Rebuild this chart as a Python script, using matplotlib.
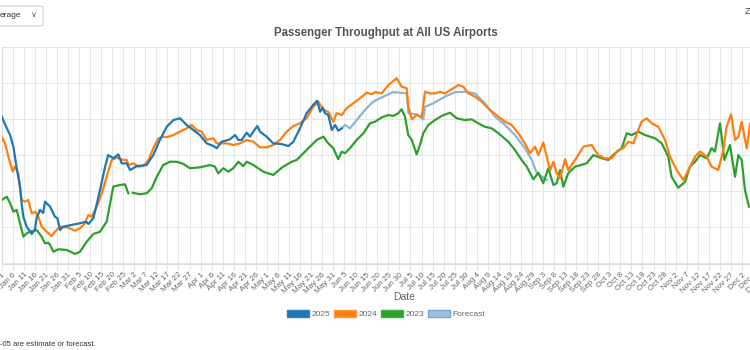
import numpy as np
import pandas as pd
import matplotlib
matplotlib.use("Agg")
import matplotlib.pyplot as plt
from matplotlib.patches import Patch, FancyBboxPatch

plt.rcParams['font.family'] = ['Liberation Sans', 'DejaVu Sans']

# day offset from Jan 1, 7-day average passengers (millions)
days_2025 = [0, 2, 3.8, 5.3, 6.8, 8.3, 9, 9.8, 11.3, 13.6, 15, 15.8, 17.3, 18.8, 19.6, 21.9, 24.1, 25.2,
             26.4, 27.9, 30.9, 35.4, 38.2, 39.2, 41.5, 44.5, 46.8, 48.2, 50.5, 52.8, 54.3, 56.6, 58.1,
             61.2, 65.6, 68.6, 71.6, 74.7, 77.7, 80.7, 83.7, 86.7, 89.7, 92.8, 95.8, 97.3, 99.6, 103.3,
             105.6, 107.1, 108.6, 110.9, 112.4, 113.9, 115.7, 116.9, 119.9, 122.9, 126.7, 129.7, 132,
             135, 138, 141, 142.8, 144.1, 145.3, 146.3, 147.8, 149.4, 150.9, 152.3, 153.9]
vals_2025 = [2.614, 2.558, 2.512, 2.447, 2.328, 2.226, 2.134, 2.059, 2.004, 1.964, 1.986, 2.051, 2.097,
             2.080, 2.143, 2.115, 2.059, 2.051, 1.986, 2.004, 2.012, 2.023, 2.032, 2.019, 2.051, 2.207,
             2.337, 2.401, 2.383, 2.405, 2.355, 2.355, 2.318, 2.340, 2.346, 2.401, 2.485, 2.558, 2.595,
             2.605, 2.568, 2.540, 2.512, 2.466, 2.451, 2.439, 2.475, 2.488, 2.512, 2.485, 2.485, 2.525,
             2.503, 2.531, 2.562, 2.531, 2.503, 2.466, 2.462, 2.451, 2.475, 2.549, 2.633, 2.679, 2.702,
             2.641, 2.664, 2.633, 2.623, 2.540, 2.568, 2.536, 2.549]

days_fc = [153.9, 155.4, 157.6, 160.7, 164.4, 168.2, 172.7, 177.2, 181.7, 183.3, 184.1, 187.8, 190.8,
           191.6, 195.3, 200.6, 205.2, 209.7, 214.2, 218.7, 223.3, 227.8, 232.3, 236.8, 239.9, 242.2,
           246.7]
vals_fc = [2.549, 2.568, 2.549, 2.595, 2.651, 2.697, 2.725, 2.750, 2.745, 2.743, 2.633, 2.627, 2.599,
           2.669, 2.688, 2.725, 2.750, 2.752, 2.743, 2.688, 2.614, 2.568, 2.512, 2.439, 2.374, 2.300,
           2.263]

days_2024 = [0, 1.5, 3, 5, 6, 7.5, 9, 10.5, 12, 13.6, 15.1, 16.6, 18.1, 20.4, 22.6, 24.1, 26.4, 29.4,
             33.2, 35.4, 37.7, 39.2, 40.7, 43, 45.3, 47.5, 49.8, 52, 55, 56.6, 57.3, 59.6, 61.8, 64.1,
             66.4, 68.6, 70.9, 73.1, 74.7, 77.7, 80.7, 83.7, 86, 88.3, 90.5, 92.8, 95.8, 97.3, 101.8,
             104.8, 107.9, 110.9, 113.9, 116.9, 119.9, 122.9, 126, 129, 132, 135, 138, 141, 143.3, 145.6,
             147.8, 150.1, 151.6, 153.9, 156.1, 159.1, 162.2, 165.2, 167.5, 169, 172, 175, 178.8, 181,
             183.3, 184, 185.6, 187.8, 190.1, 191.6, 193.8, 196.1, 198.4, 200.6, 203.7, 206.7, 208.9,
             211.2, 214.2, 217.2, 221, 224.8, 227.8, 230.8, 233.8, 236.8, 239.1, 241.4, 242.9, 245.1,
             246.7, 248.2, 249.7, 251.2, 252.7, 255, 256.4, 259.5, 263.2, 267, 270, 272.9, 276.1, 279.1,
             281.3, 283.6, 285.9, 288.1, 289.6, 291.9, 294.2, 297.2, 300.2, 302.5, 305.5, 308.5, 310.8,
             313.8, 316.1, 319.1, 321.3, 324.3, 326.6, 328.1, 330.1, 331.9, 333.4, 334.9, 337.2, 338.7,
             341, 344]
vals_2024 = [2.503, 2.466, 2.392, 2.309, 2.337, 2.300, 2.152, 2.143, 2.152, 2.078, 2.087, 2.059, 2.004,
             1.976, 1.952, 1.976, 2.004, 2.001, 1.982, 1.995, 2.023, 2.069, 2.059, 2.115, 2.189, 2.281,
             2.374, 2.386, 2.374, 2.374, 2.346, 2.355, 2.337, 2.340, 2.374, 2.439, 2.494, 2.503, 2.500,
             2.512, 2.531, 2.549, 2.568, 2.540, 2.531, 2.485, 2.494, 2.466, 2.466, 2.457, 2.466, 2.485,
             2.475, 2.444, 2.444, 2.457, 2.485, 2.531, 2.562, 2.577, 2.605, 2.669, 2.697, 2.651, 2.641,
             2.586, 2.633, 2.623, 2.660, 2.688, 2.716, 2.747, 2.738, 2.750, 2.743, 2.789, 2.827, 2.780,
             2.771, 2.669, 2.599, 2.623, 2.614, 2.752, 2.743, 2.743, 2.752, 2.743, 2.766, 2.789, 2.780,
             2.743, 2.725, 2.697, 2.651, 2.614, 2.586, 2.568, 2.522, 2.466, 2.411, 2.447, 2.401, 2.470,
             2.392, 2.318, 2.364, 2.300, 2.272, 2.378, 2.318, 2.374, 2.447, 2.457, 2.401, 2.383, 2.383,
             2.429, 2.439, 2.475, 2.466, 2.540, 2.586, 2.605, 2.577, 2.558, 2.485, 2.392, 2.318, 2.263,
             2.318, 2.392, 2.420, 2.392, 2.337, 2.318, 2.429, 2.558, 2.627, 2.485, 2.503, 2.586, 2.439,
             2.577, 2.550, 2.500]

days_2023 = [0, 2.3, 3.8, 5.3, 6.8, 8.3, 9.8, 11.3, 12.8, 15.8, 18.1, 18.8, 19.6, 21.1, 21.9, 23.4,
             25.6, 29.4, 33.2, 35.4, 38.5, 41.5, 44.5, 47.5, 50.5, 53.5, 55.8, 57.3, 58.3, 59.3, 62.6,
             65.6, 67.9, 70.2, 73.1, 76.2, 79.2, 82.2, 85.2, 89.7, 94.3, 96.5, 98, 100.3, 102.6, 104.8,
             107.1, 109.3, 110.9, 113.9, 118.4, 122.9, 127.4, 131.3, 133.5, 136.5, 139.5, 142.6, 145.6,
             147.8, 150.1, 152.3, 153.9, 155.4, 157.6, 160.7, 163.7, 166.7, 169, 172, 175, 177.2, 179.5,
             181, 182.5, 184, 185.6, 187.8, 189.3, 190.8, 193.1, 196.1, 199.1, 202.9, 205.9, 209.7,
             212.7, 215.7, 218.7, 221.8, 224.8, 229.3, 232.3, 235.3, 237.6, 240.6, 242.9, 245.1, 247.4,
             249.7, 251.2, 252.7, 254.2, 256.4, 259.5, 264.7, 267.8, 271.6, 274.5, 277.6, 280.6, 282.9,
             285.1, 288.1, 291.2, 295.7, 298.7, 301.7, 303.2, 306.2, 309.3, 311.5, 313.8, 316.1, 319.1,
             321.3, 322.8, 325.1, 327.1, 329.6, 331.9, 333.4, 334.9, 336.4, 338.2]
vals_2023 = [2.152, 2.170, 2.134, 2.087, 2.097, 2.023, 1.949, 1.967, 1.976, 1.986, 1.949, 1.930, 1.912,
             1.915, 1.903, 1.865, 1.879, 1.875, 1.853, 1.865, 1.921, 1.964, 1.976, 2.032, 2.226, 2.235,
             2.239, 2.189, np.nan, 2.192, 2.184, 2.189, 2.217, 2.281, 2.346, 2.364, 2.364, 2.352, 2.328,
             2.333, 2.346, 2.337, 2.300, 2.328, 2.309, 2.328, 2.364, 2.340, 2.364, 2.346, 2.309, 2.291,
             2.337, 2.364, 2.374, 2.411, 2.447, 2.485, 2.503, 2.466, 2.439, 2.378, 2.420, 2.411, 2.439,
             2.485, 2.522, 2.577, 2.586, 2.610, 2.623, 2.618, 2.633, 2.655, 2.614, 2.512, 2.485, 2.405,
             2.457, 2.522, 2.568, 2.595, 2.618, 2.636, 2.605, 2.595, 2.599, 2.577, 2.558, 2.549, 2.522,
             2.475, 2.429, 2.374, 2.337, 2.267, 2.303, 2.245, 2.328, 2.235, 2.245, 2.318, 2.226, 2.300,
             2.337, 2.355, 2.401, 2.383, 2.374, 2.411, 2.439, 2.522, 2.512, 2.531, 2.512, 2.494, 2.466,
             2.392, 2.281, 2.220, 2.253, 2.337, 2.364, 2.401, 2.383, 2.439, 2.420, 2.577, 2.374, 2.457,
             2.281, 2.401, 2.374, 2.207, 2.115]

tick_days = np.arange(0, 365, 5)
tick_labels = [(pd.Timestamp("2025-01-01") + pd.Timedelta(days=int(d))).strftime("%b %-d")
               for d in tick_days]

fig = plt.figure(figsize=(7.5, 3.5), dpi=100)
px_per_day = 2.2095
ax = fig.add_axes([1.7 / 750, 86.5 / 350, 364 * px_per_day / 750, 216.5 / 350])

ax.plot(days_fc, vals_fc, color="#8db4d8", lw=1.6, zorder=2)
ax.plot(days_2023, vals_2023, color="#2ca02c", lw=1.6, zorder=3)
ax.plot(days_2024, vals_2024, color="#ff7f0e", lw=1.6, zorder=4)
ax.plot(days_2025, vals_2025, color="#1f77b4", lw=1.6, zorder=5)

ax.set_xlim(0, 364)
ax.set_ylim(1.8, 3.0)
ax.set_yticks(np.arange(1.8, 3.01, 0.2))
ax.set_xticks(tick_days)
ax.set_xticklabels(tick_labels, rotation=45, ha="right", rotation_mode="anchor",
                   fontsize=5.8, color="#666666")
ax.tick_params(axis="x", length=4, color="#e4e4e4", pad=1.5)
ax.tick_params(axis="y", length=0, labelleft=False)
ax.grid(True, color="#e6e6e6", lw=0.8)
ax.set_axisbelow(True)
for side in ["top", "right"]:
    ax.spines[side].set_visible(False)
for side in ["left", "bottom"]:
    ax.spines[side].set_color("#dddddd")

fig.text(386 / 750, 1 - 33 / 350, "Passenger Throughput at All US Airports", ha="center", va="center",
         fontsize=8.3, fontweight="bold", color="#555555")
fig.text(404 / 750, 1 - 297 / 350, "Date", ha="center", va="center", fontsize=7.5, color="#666666")

handles = [Patch(facecolor="#1f77b4", edgecolor="#2f80c0", label="2025"),
           Patch(facecolor="#ff7f0e", edgecolor="#ff9a40", label="2024"),
           Patch(facecolor="#2ca02c", edgecolor="#3cb03c", label="2023"),
           Patch(facecolor="#9dbfe0", edgecolor="#7aa5d2", label="Forecast")]
fig.legend(handles=handles, loc="center", bbox_to_anchor=(386 / 750, 1 - 314 / 350), ncol=4,
           frameon=False, fontsize=6, handlelength=2.6, handleheight=0.9, handletextpad=0.3,
           columnspacing=0.5, labelcolor="#666666")

# page widgets around the chart
box = FancyBboxPatch((-12 / 750, 1 - 26 / 350), 55 / 750, 20 / 350, transform=fig.transFigure,
                     boxstyle="round,pad=0,rounding_size=0.006", facecolor="white",
                     edgecolor="#d0d0d0", lw=0.8)
fig.patches.append(box)
fig.text(0, 1 - 15.5 / 350, "erage", ha="left", va="center", fontsize=6, color="#333333")
fig.text(34 / 750, 1 - 15.5 / 350, "\u2228", ha="center", va="center", fontsize=6, color="#666666")
fig.text(745 / 750, 1 - 12 / 350, "Z", ha="left", va="center", fontsize=6.5, color="#444444")
fig.text(0, 1 - 344 / 350, "-05 are estimate or forecast.", ha="left", va="center", fontsize=5.5,
         color="#333333")

fig.savefig("out.png", dpi=100)
